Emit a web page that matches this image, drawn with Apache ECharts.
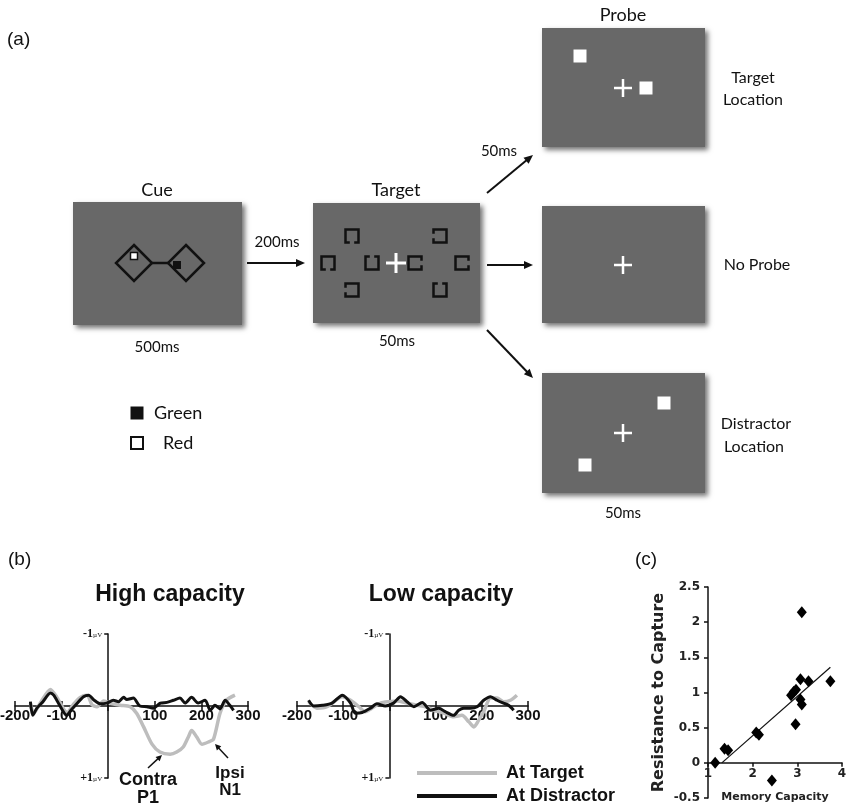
<!DOCTYPE html>
<html><head><meta charset="utf-8">
<script src="https://cdn.jsdelivr.net/npm/echarts@6/dist/echarts.min.js"></script>
<style>html,body{margin:0;padding:0;background:#fff}#c{width:847px;height:809px}</style>
</head><body><div id="c"></div>
<script>
// ---------- Panel (b) ERP traces (time in ms, amplitude in µV; negative up) ----------
const highTargetT = [-167,-160,-145,-124,-110,-95,-89,-75,-60,-45,-35,-24,-10,0,10,26,47,61,76,94,111,133,147,161,172,179,190,201,215,226,240,254,272];
const highTargetV = [-0.04,0.10,-0.05,-0.23,-0.12,0.05,0.10,-0.02,-0.12,-0.15,-0.02,0.01,-0.07,-0.05,-0.03,-0.01,0.01,0.10,0.29,0.53,0.64,0.67,0.64,0.57,0.43,0.34,0.43,0.53,0.50,0.46,0.10,-0.08,-0.15];
const highDistT = [-167,-162,-153,-140,-124,-117,-105,-89,-80,-65,-53,-42,-30,-17,-3,11,22,33,40,54,68,83,97,112,126,140,154,165,179,193,208,219,229,240,251,261,269];
const highDistV = [-0.06,0.13,0.03,-0.06,-0.18,-0.15,-0.02,0.13,0.06,-0.05,-0.13,-0.15,-0.08,-0.03,-0.04,-0.08,-0.06,-0.12,-0.09,-0.11,0.00,0.01,0.03,-0.04,-0.05,-0.08,-0.11,-0.04,-0.12,-0.04,-0.08,0.06,-0.01,0.04,-0.08,-0.01,0.06];
const lowTargetT = [-175,-157,-135,-102,-84,-66,-52,-38,-19,-1,17,38,60,78,96,118,139,157,172,183,193,204,219,233,247,262,276];
const lowTargetV = [-0.06,0.03,0.01,-0.13,-0.08,0.01,0.08,0.03,-0.04,-0.06,-0.07,-0.04,-0.01,0.01,0.06,0.10,0.15,0.13,0.22,0.29,0.20,0.08,-0.11,-0.11,-0.06,-0.08,-0.15];
const lowDistT = [-175,-164,-145,-124,-102,-84,-74,-59,-41,-27,-9,9,24,38,53,71,89,107,121,139,150,161,175,190,204,219,233,247,258,269];
const lowDistV = [-0.08,0.00,-0.01,-0.04,-0.15,-0.04,0.10,0.09,0.03,-0.03,0.00,-0.04,-0.13,-0.06,0.01,-0.05,0.06,0.03,0.08,0.13,0.06,0.03,0.03,0.01,-0.08,-0.13,-0.08,-0.04,-0.01,0.06];
const erpTickLabels = ['-200','-100','','100','200','300'];

// ---------- Panel (c) scatter ----------
const memCapacity = [1.16,1.37,1.45,2.08,2.14,2.43,2.86,2.92,2.97,2.96,3.07,3.07,3.10,3.10,3.25,3.74];
const resistance  = [0.00,0.20,0.18,0.43,0.40,-0.25,0.96,1.01,1.04,0.55,1.19,0.90,0.83,2.14,1.16,1.16];
const fitX = [1.31, 3.74];
const fitY = [0.00, 1.36];

const zip = (a, b) => a.map((v, i) => [v, b[i]]);
const INK = '#111';
const SCREEN = '#686868';
const G = [];
const futura = s => s + 'px Lato';
const helv = (s, b) => (b ? 'bold ' : '') + s + 'px "Liberation Sans"';

function text(str, x, y, font, align) {
  G.push({type: 'text', x: x, y: y, z: 40,
    style: {text: str, font: font, fill: INK, align: align || 'center', verticalAlign: 'middle'}});
}
function line(x1, y1, x2, y2, w, c) {
  G.push({type: 'line', z: 30, shape: {x1, y1, x2, y2}, style: {stroke: c || INK, lineWidth: w || 2, lineCap: 'butt'}});
}
function arrow(x1, y1, x2, y2, w, hl, hw) {
  const a = Math.atan2(y2 - y1, x2 - x1), ca = Math.cos(a), sa = Math.sin(a);
  const bx = x2 - ca * hl, by = y2 - sa * hl;
  line(x1, y1, bx + ca, by + sa, w);
  G.push({type: 'polygon', z: 30, shape: {points: [[x2, y2], [bx - sa * hw, by + ca * hw], [bx + sa * hw, by - ca * hw]]}, style: {fill: INK}});
}
function box(x0, y0, x1, y1) {
  G.push({type: 'rect', z: 10, shape: {x: x0, y: y0, width: x1 - x0, height: y1 - y0},
    style: {fill: SCREEN, shadowBlur: 5, shadowOffsetX: 3, shadowOffsetY: 3, shadowColor: 'rgba(0,0,0,0.55)'}});
}
function cross(cx, cy, h, w) {
  line(cx - h, cy, cx + h, cy, w || 2.5, '#fff');
  line(cx, cy - h, cx, cy + h, w || 2.5, '#fff');
}
function square(cx, cy, s, fill, stroke, lw) {
  G.push({type: 'rect', z: 35, shape: {x: cx - s / 2, y: cy - s / 2, width: s, height: s},
    style: {fill: fill, stroke: stroke || null, lineWidth: lw || 0}});
}
function diamond(cx, cy, h) {
  G.push({type: 'polygon', z: 30, shape: {points: [[cx, cy - h], [cx + h, cy], [cx, cy + h], [cx - h, cy]]},
    style: {fill: null, stroke: INK, lineWidth: 2.5, lineJoin: 'miter'}});
}
function bracket(cx, cy, side) {
  const s = 6.5, g = 2.2;
  const C = [[cx - s, cy - s], [cx + s, cy - s], [cx + s, cy + s], [cx - s, cy + s]];
  const i = {top: 0, right: 1, bottom: 2, left: 3}[side];
  const A = C[i], B = C[(i + 1) % 4];
  const m = [(A[0] + B[0]) / 2, (A[1] + B[1]) / 2];
  const d = [(B[0] - A[0]) / (2 * s), (B[1] - A[1]) / (2 * s)];
  const pts = [[m[0] + d[0] * g, m[1] + d[1] * g], B, C[(i + 2) % 4], C[(i + 3) % 4], A, [m[0] - d[0] * g, m[1] - d[1] * g]];
  G.push({type: 'polyline', z: 30, shape: {points: pts}, style: {fill: null, stroke: INK, lineWidth: 2.5}});
}

// ---------- Panel (a) diagram ----------
text('(a)', 7, 40, helv(19), 'left');
text('Cue', 157, 190, futura(18));
box(73, 202, 242, 325);
diamond(134, 263, 18);
diamond(186, 263, 18);
line(152, 263, 168, 263, 2.5);
square(134, 256, 7, '#fff', INK, 1.5);
square(177, 265, 8, INK);
text('500ms', 157, 347, futura(15));
text('200ms', 277, 242, futura(15));
arrow(247, 263, 305, 263, 2, 9, 4);
square(137, 413, 13, INK);
text('Green', 154, 413, futura(18), 'left');
square(137, 443, 12, '#fff', INK, 2);
text('Red', 163, 443, futura(18), 'left');
text('Target', 396, 190, futura(18));
box(313, 203, 480, 323);
cross(396, 263, 10, 3);
bracket(352, 236, 'bottom');
bracket(328, 263, 'bottom');
bracket(372, 263, 'top');
bracket(352, 290, 'left');
bracket(415, 263, 'right');
bracket(440, 236, 'left');
bracket(462, 263, 'right');
bracket(440, 290, 'top');
text('50ms', 397, 341, futura(15));
arrow(487, 193, 533, 155, 2, 9, 4);
arrow(487, 265, 533, 265, 2, 9, 4);
arrow(487, 330, 533, 378, 2, 9, 4);
text('50ms', 499, 151, futura(15));
text('Probe', 623, 15, futura(18));
box(542, 28, 705, 147);
square(580, 56, 13, '#fff');
square(646, 88, 13, '#fff');
cross(623, 88, 9);
text('Target', 753, 78, futura(16));
text('Location', 753, 100, futura(16));
box(542, 206, 705, 323);
cross(623, 265, 9);
text('No Probe', 757, 265, futura(16));
box(542, 373, 705, 493);
square(664, 403, 13, '#fff');
square(585, 465, 13, '#fff');
cross(623, 433, 9);
text('Distractor', 756, 424, futura(16));
text('Location', 754, 447, futura(16));
text('50ms', 623, 513, futura(15));

// ---------- Panel (b)/(c) labels & annotations ----------
text('(b)', 8, 560, helv(19), 'left');
text('(c)', 646, 560, helv(19));
text('High capacity', 170, 595, helv(23, true));
text('Low capacity', 441, 595, helv(23, true));
text('Contra', 148, 780, helv(18, true));
text('P1', 148, 798, helv(18, true));
arrow(148, 768, 162, 755, 1.5, 6, 3);
text('Ipsi', 230, 773, helv(17, true));
text('N1', 230, 790, helv(17, true));
arrow(228, 758, 215, 744, 1.5, 6, 3);

// ---------- Axes (zero lines placed with offsets) ----------
const ERP_TOP = 634, ERP_H = 144;
function erpX(grid, up) {
  return {
    gridIndex: grid, type: 'value', min: -200, max: 300, interval: 100,
    position: up ? 'top' : 'bottom', offset: -ERP_H / 2,
    axisLine: {show: !up, onZero: false, lineStyle: {color: INK, width: 1.5}},
    axisTick: {show: true, length: 5, lineStyle: {color: INK, width: 1.5}},
    axisLabel: up ? {show: false} : {show: true, margin: 2, color: INK, fontFamily: 'Liberation Sans', fontWeight: 'bold', fontSize: 15,
      formatter: v => erpTickLabels[Math.round((v + 200) / 100)] || ''},
    splitLine: {show: false}
  };
}
function erpY(grid, width) {
  return {
    gridIndex: grid, type: 'value', min: -1, max: 1, inverse: true,
    position: 'left', offset: -width * 200 / 500,
    axisLine: {show: true, onZero: false, lineStyle: {color: INK, width: 1.5}},
    axisTick: {show: true, length: 4, customValues: [-1, 1], lineStyle: {color: INK, width: 1.5}},
    axisLabel: {show: true, margin: 6, customValues: [-1, 1],
      formatter: v => (v < 0 ? '{n|-1}' : '{n|+1}') + '{u|µV}',
      rich: {n: {fontFamily: 'Liberation Serif', fontWeight: 'bold', fontSize: 12, color: INK},
             u: {fontFamily: 'Liberation Serif', fontSize: 7, color: INK, padding: [2, 0, 0, 0]}}},
    splitLine: {show: false}
  };
}

const chart = echarts.init(document.getElementById('c'), null, {renderer: 'canvas'});
chart.setOption({
  backgroundColor: '#fff',
  animation: false,
  grid: [
    {left: 15, top: ERP_TOP, width: 233, height: ERP_H, containLabel: false, outerBoundsMode: 'none'},
    {left: 297, top: ERP_TOP, width: 231, height: ERP_H, containLabel: false, outerBoundsMode: 'none'},
    {left: 708, top: 587, width: 134, height: 211, containLabel: false, outerBoundsMode: 'none'}
  ],
  xAxis: [
    erpX(0, false), erpX(0, true), erpX(1, false), erpX(1, true),
    {gridIndex: 2, type: 'value', min: 1, max: 4, interval: 1, position: 'bottom', offset: -211 * 0.5 / 3,
     name: 'Memory Capacity', nameLocation: 'middle', nameGap: 29,
     nameTextStyle: {fontFamily: 'DejaVu Sans', fontWeight: 'bold', fontSize: 11, color: '#222'},
     axisLine: {onZero: false, lineStyle: {color: INK, width: 1.5}},
     axisTick: {length: 4, lineStyle: {color: INK, width: 1.5}},
     axisLabel: {margin: 5, color: '#222', fontFamily: 'DejaVu Sans', fontWeight: 'bold', fontSize: 12},
     splitLine: {show: false}}
  ],
  yAxis: [
    erpY(0, 233), erpY(1, 231),
    {gridIndex: 2, type: 'value', min: -0.5, max: 2.5, interval: 0.5,
     name: 'Resistance to Capture', nameLocation: 'middle', nameGap: 41,
     nameTextStyle: {fontFamily: 'DejaVu Sans', fontWeight: 'bold', fontSize: 16, color: '#222'},
     axisLine: {show: true, onZero: false, lineStyle: {color: INK, width: 1.5}},
     axisTick: {show: true, length: 4, lineStyle: {color: INK, width: 1.5}},
     axisLabel: {margin: 8, color: '#222', fontFamily: 'DejaVu Sans', fontWeight: 'bold', fontSize: 12},
     splitLine: {show: false}}
  ],
  legend: {
    data: ['At Target', 'At Distractor'], left: 417, top: 764, orient: 'vertical', padding: 0,
    icon: 'rect', itemWidth: 80, itemHeight: 4, itemGap: 5, selectedMode: false,
    textStyle: {fontFamily: 'Liberation Sans', fontWeight: 'bold', fontSize: 18, color: INK, padding: [0, 0, 0, 4]}
  },
  series: [
    {name: 'At Target', type: 'line', xAxisIndex: 0, yAxisIndex: 0, data: zip(highTargetT, highTargetV),
     showSymbol: false, smooth: 0.25, color: '#bdbdbd', lineStyle: {color: '#bdbdbd', width: 3.5}, z: 3},
    {name: 'At Distractor', type: 'line', xAxisIndex: 0, yAxisIndex: 0, data: zip(highDistT, highDistV),
     showSymbol: false, smooth: 0.25, color: INK, lineStyle: {color: INK, width: 3}, z: 4},
    {name: 'At Target', type: 'line', xAxisIndex: 2, yAxisIndex: 1, data: zip(lowTargetT, lowTargetV),
     showSymbol: false, smooth: 0.25, color: '#bdbdbd', lineStyle: {color: '#bdbdbd', width: 3.5}, z: 3},
    {name: 'At Distractor', type: 'line', xAxisIndex: 2, yAxisIndex: 1, data: zip(lowDistT, lowDistV),
     showSymbol: false, smooth: 0.25, color: INK, lineStyle: {color: INK, width: 3}, z: 4},
    {type: 'line', xAxisIndex: 4, yAxisIndex: 2, data: zip(fitX, fitY), showSymbol: false,
     lineStyle: {color: INK, width: 1.2}, color: INK, z: 3},
    {type: 'scatter', xAxisIndex: 4, yAxisIndex: 2, data: zip(memCapacity, resistance),
     symbol: 'diamond', symbolSize: [10, 12], itemStyle: {color: '#000', opacity: 1}, z: 4}
  ],
  graphic: G
});
</script></body></html>
